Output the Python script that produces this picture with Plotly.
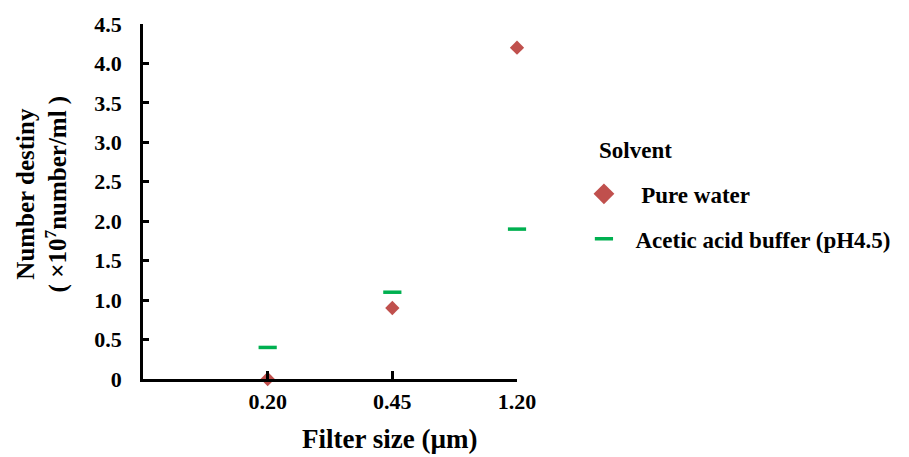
import plotly.graph_objects as go

# Filter sizes (µm) shown as evenly spaced categories
filter_sizes = ["0.20", "0.45", "1.20"]
positions = [1, 2, 3]

# Number density (x10^7 number/ml) for each solvent
pure_water = [0.0, 0.9, 4.2]
acetic_buffer = [0.4, 1.1, 1.9]

y_ticks = [0, 0.5, 1.0, 1.5, 2.0, 2.5, 3.0, 3.5, 4.0, 4.5]
y_tick_text = ["0", "0.5", "1.0", "1.5", "2.0", "2.5", "3.0", "3.5", "4.0", "4.5"]

FONT = "Liberation Serif, Times New Roman, serif"
RED = "#C0504D"
GREEN = "#00B050"
NB = "\u00a0"

fig = go.Figure()

# data marks
fig.add_trace(go.Scatter(
    x=positions, y=pure_water, mode="markers", showlegend=False,
    marker=dict(symbol="diamond", size=11, color=RED),
    cliponaxis=False,
))
fig.add_trace(go.Scatter(
    x=positions, y=acetic_buffer, mode="markers", showlegend=False,
    marker=dict(symbol="line-ew", size=13, color=GREEN,
                line=dict(color=GREEN, width=3.5)),
    cliponaxis=False,
))

# legend entries (larger key symbols)
fig.add_trace(go.Scatter(
    x=[None], y=[None], mode="markers", name=NB * 3 + "Pure water",
    legendgroup="water",
    marker=dict(symbol="diamond", size=18, color=RED),
))
fig.add_trace(go.Scatter(
    x=[None], y=[None], mode="markers", name=NB * 2 + "Acetic acid buffer (pH4.5)",
    legendgroup="acetic",
    marker=dict(symbol="line-ew", size=13, color=GREEN,
                line=dict(color=GREEN, width=3.5)),
))

fig.update_layout(
    width=909, height=457,
    margin=dict(l=143, r=392, t=18, b=78),
    plot_bgcolor="white", paper_bgcolor="white",
    font=dict(family=FONT, color="black", size=22, weight="bold"),
    showlegend=True,
    legend=dict(
        font=dict(family=FONT, size=23, weight="bold"),
        x=1.179, xanchor="left", y=0.582, yanchor="top",
        tracegroupgap=12, itemsizing="trace",
        bgcolor="rgba(0,0,0,0)",
    ),
    xaxis=dict(
        range=[0, 3], tickvals=positions, ticktext=filter_sizes,
        showgrid=False, zeroline=False,
        showline=True, linecolor="black", linewidth=2.5,
        ticks="inside", ticklen=8, tickwidth=2.5, tickcolor="black",
        tickfont=dict(family=FONT, size=22, weight="bold"),
        ticklabelstandoff=1,
    ),
    yaxis=dict(
        range=[0, 4.5], tickvals=y_ticks, ticktext=y_tick_text,
        showgrid=False, zeroline=False,
        showline=True, linecolor="black", linewidth=2.5,
        ticks="inside", ticklen=6, tickwidth=2.5, tickcolor="black",
        tickfont=dict(family=FONT, size=22, weight="bold"),
        ticklabelstandoff=14,
    ),
    annotations=[
        dict(text="Filter size (µm)", xref="paper", yref="paper",
             x=0.658, y=-0.169, xanchor="center", yanchor="middle", showarrow=False,
             font=dict(family=FONT, size=27, weight="bold")),
        dict(text="Number destiny<br>( ×10<sup>7</sup>number/ml )", xref="paper", yref="paper",
             x=-0.27, y=0.52, xanchor="center", yanchor="middle", showarrow=False,
             textangle=-90,
             font=dict(family=FONT, size=25, weight="bold")),
        dict(text="Solvent", xref="paper", yref="paper",
             x=1.214, y=0.645, xanchor="left", yanchor="middle", showarrow=False,
             font=dict(family=FONT, size=23, weight="bold")),
    ],
)

fig.write_html("out.html")
